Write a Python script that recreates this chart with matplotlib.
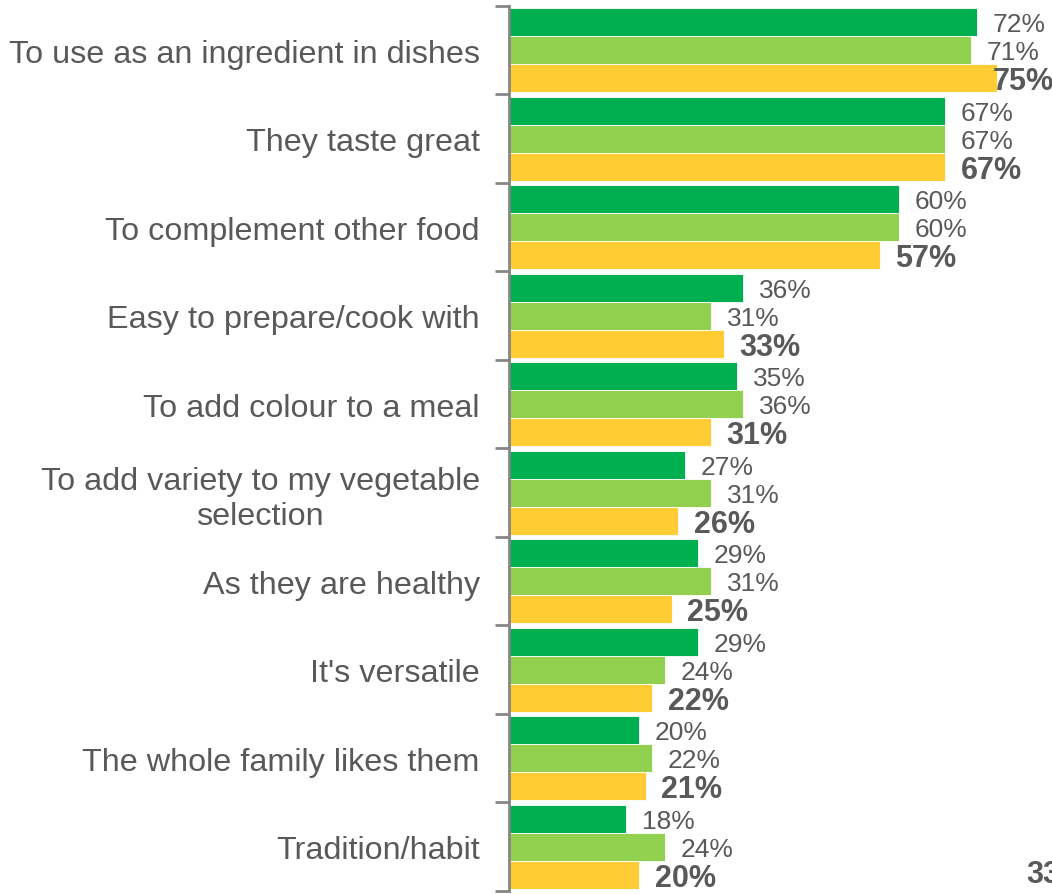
import matplotlib
matplotlib.use("Agg")
import matplotlib.pyplot as plt
import numpy as np

plt.rcParams['font.family'] = ['Liberation Sans', 'DejaVu Sans']

categories = [
    "To use as an ingredient in dishes",
    "They taste great",
    "To complement other food",
    "Easy to prepare/cook with",
    "To add colour to a meal",
    "To add variety to my vegetable\nselection",
    "As they are healthy",
    "It's versatile",
    "The whole family likes them",
    "Tradition/habit",
]
series_a = [72, 67, 60, 36, 35, 27, 29, 29, 20, 18]   # dark green
series_b = [71, 67, 60, 31, 36, 31, 31, 24, 22, 24]   # light green
series_c = [75, 67, 57, 33, 31, 26, 25, 22, 21, 20]   # yellow (bold labels)
page_number = "33"

colors = ["#00B050", "#92D050", "#FFCC33"]
text_color = "#595959"

W, H = 1052, 895
fig = plt.figure(figsize=(W / 100, H / 100), dpi=100)
ax_left, ax_right = 509, 1052
ax_top, ax_bottom = 7, 892
ax = fig.add_axes([ax_left / W, (H - ax_bottom) / H, (ax_right - ax_left) / W, (ax_bottom - ax_top) / H])

px_per_pct = 6.5
xmax = (ax_right - ax_left) / px_per_pct
ax.set_xlim(0, xmax)
n = len(categories)
ax.set_ylim(n - 0.5, -0.5)

y = np.arange(n)
bh = 0.317
offsets = [-bh, 0, bh]
for vals, col, off, bold in zip([series_a, series_b, series_c], colors, offsets, [False, False, True]):
    ax.barh(y + off, vals, height=bh, color=col, edgecolor="white", linewidth=0.6)
    for yi, v in zip(y + off, vals):
        x_txt = v + 16 / px_per_pct
        if bold and v + 72 / px_per_pct > xmax:
            ax.text(xmax + 0.3, yi + 0.035, f"{v}%", ha="right", va="center", fontsize=22,
                    color=text_color, fontweight="bold")
        elif bold:
            ax.text(x_txt, yi + 0.035, f"{v}%", ha="left", va="center", fontsize=22,
                    color=text_color, fontweight="bold")
        else:
            ax.text(x_txt, yi + 0.025, f"{v}%", ha="left", va="center", fontsize=19,
                    color=text_color)

ax.set_yticks(y)
ax.set_yticklabels(categories, fontsize=23.3, color=text_color, multialignment="center")
ax.tick_params(axis="y", which="major", length=0, pad=21)
ax.set_yticks(np.arange(n + 1) - 0.5, minor=True)
ax.tick_params(axis="y", which="minor", length=10, width=2, color="#868686")
ax.set_xticks([])
for s in ["top", "right", "bottom"]:
    ax.spines[s].set_visible(False)
ax.spines["left"].set_color("#868686")
ax.spines["left"].set_linewidth(2)

fig.text(1026 / W, (H - 875) / H, page_number, ha="left", va="center", fontsize=22,
         fontweight="bold", color=text_color)

fig.savefig("out.png", dpi=100)
